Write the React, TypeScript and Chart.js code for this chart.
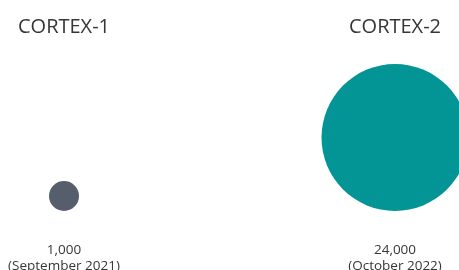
import React, { useEffect, useRef } from "react";
import { Chart, registerables } from "chart.js";

Chart.register(...registerables);

const names = ["CORTEX-1", "CORTEX-2"];
const values = [1000, 24000];
const valueLabels = ["1,000", "24,000"];
const dateLabels = ["(September 2021)", "(October 2022)"];
const colors = ["#565d6b", "#039595"];

const W = 459;
const H = 270;
const PAD_TOP = 40;
const PAD_BOTTOM = 59;
const PAD_SIDE = 64;
const PLOT_H = H - PAD_TOP - PAD_BOTTOM;
const R_SCALE = 15 / Math.sqrt(1000);
const FONT = "'Open Sans', 'Noto Sans', sans-serif";
const TEXT_COLOR = "#363636";

const labelPlugin = {
  id: "bubbleLabels",
  afterDraw(chart: any) {
    const { ctx, chartArea, scales } = chart;
    const xs = scales.x;
    ctx.save();
    ctx.fillStyle = TEXT_COLOR;
    ctx.textAlign = "center";
    ctx.textBaseline = "alphabetic";
    names.forEach((n, i) => {
      const px = xs.getPixelForValue(i);
      ctx.font = `20px ${FONT}`;
      ctx.fillText(n, px, chartArea.top - 7);
      ctx.font = `13.5px ${FONT}`;
      ctx.fillText(valueLabels[i], px, chartArea.bottom + 43);
      ctx.fillText(dateLabels[i], px, chartArea.bottom + 59);
    });
    ctx.restore();
  },
};

export default function App() {
  const ref = useRef<HTMLCanvasElement>(null);
  useEffect(() => {
    document.body.style.margin = "0";
    const ctx = ref.current!;
    const radii = values.map((v) => Math.sqrt(v) * R_SCALE);
    const chart = new Chart(ctx, {
      type: "bubble",
      data: {
        datasets: names.map((n, i) => ({
          label: n,
          data: [{ x: i, y: radii[i], r: radii[i] }],
          backgroundColor: colors[i],
          hoverBackgroundColor: colors[i],
          borderWidth: 0,
          hoverBorderWidth: 0,
          clip: false as any,
        })),
      },
      options: {
        responsive: false,
        animation: false,
        events: [],
        layout: {
          autoPadding: false,
          padding: { left: PAD_SIDE, right: PAD_SIDE, top: PAD_TOP, bottom: PAD_BOTTOM },
        },
        plugins: { legend: { display: false }, tooltip: { enabled: false } },
        scales: {
          x: { type: "linear", display: false, min: 0, max: 1 },
          y: { type: "linear", display: false, min: 0, max: PLOT_H },
        },
      },
      plugins: [labelPlugin],
    });
    return () => chart.destroy();
  }, []);
  return (
    <div style={{ width: W, height: H }}>
      <canvas ref={ref} width={W} height={H} style={{ display: "block" }} />
    </div>
  );
}
